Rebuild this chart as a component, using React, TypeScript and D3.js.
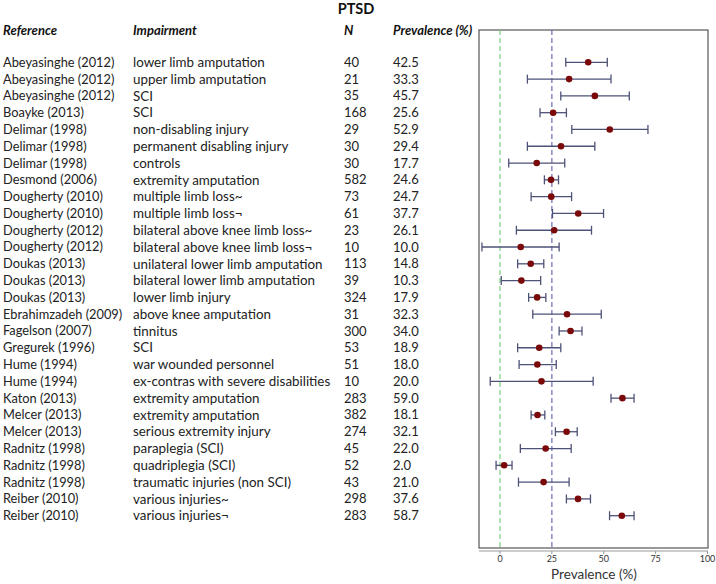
import React from "react";
import * as d3 from "d3";

const references = [
  "Abeyasinghe (2012)", "Abeyasinghe (2012)", "Abeyasinghe (2012)", "Boayke (2013)",
  "Delimar (1998)", "Delimar (1998)", "Delimar (1998)", "Desmond (2006)",
  "Dougherty (2010)", "Dougherty (2010)", "Dougherty (2012)", "Dougherty (2012)",
  "Doukas (2013)", "Doukas (2013)", "Doukas (2013)", "Ebrahimzadeh (2009)",
  "Fagelson (2007)", "Gregurek (1996)", "Hume (1994)", "Hume (1994)",
  "Katon (2013)", "Melcer (2013)", "Melcer (2013)", "Radnitz (1998)",
  "Radnitz (1998)", "Radnitz (1998)", "Reiber (2010)", "Reiber (2010)",
];
const impairments = [
  "lower limb amputation", "upper limb amputation", "SCI", "SCI",
  "non-disabling injury", "permanent disabling injury", "controls", "extremity amputation",
  "multiple limb loss~", "multiple limb loss¬", "bilateral above knee limb loss~", "bilateral above knee limb loss¬",
  "unilateral lower limb amputation", "bilateral lower limb amputation", "lower limb injury", "above knee amputation",
  "tinnitus", "SCI", "war wounded personnel", "ex-contras with severe disabilities",
  "extremity amputation", "extremity amputation", "serious extremity injury", "paraplegia (SCI)",
  "quadriplegia (SCI)", "traumatic injuries (non SCI)", "various injuries~", "various injuries¬",
];
const nValues = [40, 21, 35, 168, 29, 30, 30, 582, 73, 61, 23, 10, 113, 39, 324, 31, 300, 53, 51, 10, 283, 382, 274, 45, 52, 43, 298, 283];
const prevalence = [42.5, 33.3, 45.7, 25.6, 52.9, 29.4, 17.7, 24.6, 24.7, 37.7, 26.1, 10.0, 14.8, 10.3, 17.9, 32.3, 34.0, 18.9, 18.0, 20.0, 59.0, 18.1, 32.1, 22.0, 2.0, 21.0, 37.6, 58.7];
const ciLow = [31.7, 13.2, 29.3, 19.3, 34.6, 13.2, 4.2, 21.4, 15.0, 25.3, 7.9, -8.7, 8.5, 0.6, 13.8, 15.8, 28.5, 8.5, 9.2, -4.7, 53.5, 15.0, 26.7, 9.8, -1.9, 8.9, 32.0, 52.8];
const ciHigh = [51.7, 53.5, 62.3, 32.0, 71.3, 45.7, 31.2, 28.2, 34.5, 49.9, 44.1, 28.5, 21.1, 19.6, 22.1, 48.8, 39.5, 29.3, 27.1, 44.9, 64.6, 21.6, 37.2, 34.3, 5.8, 33.3, 43.6, 64.6];
const xTicks = [0, 25, 50, 75, 100];
const refLines = [0, 25];

const W = 716;
const H = 584;
const plot = { left: 479, right: 708, top: 30, bottom: 548 };
const font = "Lato, 'Open Sans', sans-serif";

export default function App() {
  const x = d3.scaleLinear().domain([0, 100]).range([500, 707.5]);
  const idx = d3.range(prevalence.length);
  const y = d3.scalePoint<number>().domain(idx).range([62.3, 515.7]);
  const textColor = "#222";
  const barColor = "#4d5277";
  const dotColor = "#7a0a0a";

  return (
    <svg width={W} height={H} style={{ position: "absolute", left: 0, top: 0, background: "#fff" }}>
      <rect x={0} y={0} width={W} height={H} fill="#fff" />
      <text x={356} y={14} textAnchor="middle" fontFamily={font} fontWeight="bold" fontSize={14.5} fill="#111">PTSD</text>
      <g fontFamily={font} fontWeight="bold" fontStyle="italic" fontSize={13} fill="#111">
        <text x={3} y={35}>Reference</text>
        <text x={133} y={35}>Impairment</text>
        <text x={344} y={35}>N</text>
        <text x={393} y={35}>Prevalence (%)</text>
      </g>
      <g fontFamily={font} fill={textColor}>
        {idx.map((i) => (
          <g key={i}>
            <text x={3} y={y(i)} dy="0.35em" fontSize={12.8}>{references[i]}</text>
            <text x={133} y={y(i)} dy="0.35em" fontSize={13.4}>{impairments[i]}</text>
            <text x={344} y={y(i)} dy="0.35em" fontSize={13}>{nValues[i]}</text>
            <text x={393} y={y(i)} dy="0.35em" fontSize={13}>{prevalence[i].toFixed(1)}</text>
          </g>
        ))}
      </g>
      <rect x={plot.left} y={plot.top} width={plot.right - plot.left} height={plot.bottom - plot.top} fill="none" stroke="#555" strokeWidth={1.2} />
      {refLines.map((v, k) => (
        <line key={v} x1={x(v)} x2={x(v)} y1={plot.top} y2={plot.bottom}
          stroke={k === 0 ? "#7ccf7c" : "#6b6fb0"} strokeWidth={1.2} strokeDasharray="5,3" />
      ))}
      {idx.map((i) => (
        <g key={i}>
          <line x1={x(ciLow[i])} x2={x(ciHigh[i])} y1={y(i)} y2={y(i)} stroke={barColor} strokeWidth={1.3} />
          <line x1={x(ciLow[i])} x2={x(ciLow[i])} y1={y(i)! - 4.5} y2={y(i)! + 4.5} stroke={barColor} strokeWidth={1.3} />
          <line x1={x(ciHigh[i])} x2={x(ciHigh[i])} y1={y(i)! - 4.5} y2={y(i)! + 4.5} stroke={barColor} strokeWidth={1.3} />
          <circle cx={x(prevalence[i])} cy={y(i)} r={3.3} fill={dotColor} />
        </g>
      ))}
      <line x1={plot.left} x2={plot.right} y1={551} y2={551} stroke="#999" strokeWidth={1} />
      {xTicks.map((t) => (
        <g key={t}>
          <line x1={x(t)} x2={x(t)} y1={551} y2={554} stroke="#999" />
          <text x={x(t)} y={562} textAnchor="middle" fontFamily={font} fontSize={9} fill="#333">{t}</text>
        </g>
      ))}
      <text x={594} y={579} textAnchor="middle" fontFamily={font} fontSize={13.5} fill="#333">Prevalence (%)</text>
    </svg>
  );
}
